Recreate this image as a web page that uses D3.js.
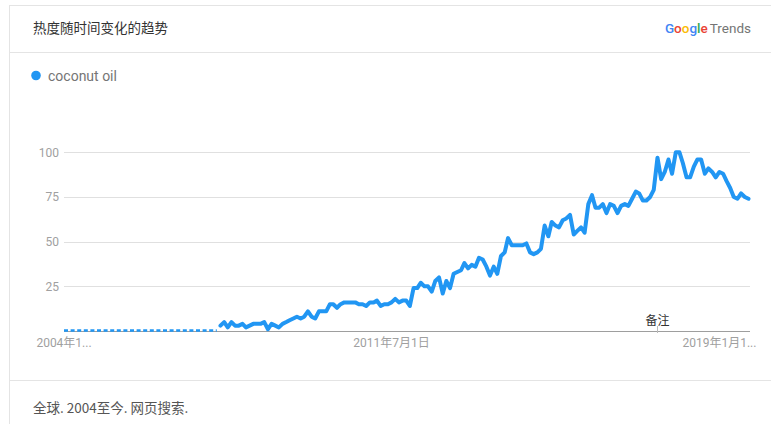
<!DOCTYPE html>
<html>
<head>
<meta charset="utf-8">
<script src="https://cdn.jsdelivr.net/npm/d3@7/dist/d3.min.js"></script>
<style>
  html, body { margin: 0; padding: 0; background: #fff; }
  svg { display: block; }
  text { font-family: Roboto, "Noto Sans CJK SC", "Noto Sans", sans-serif; }
</style>
</head>
<body>
<svg id="chart" width="771" height="424"></svg>
<script>
// ---- data ----
const seriesName = "coconut oil";
const startMonth = "2004-01-01";
const zeroMonths = 43; // months shown as dashed zero line
const values = [
  0,0,0,0,0,0,0,0,0,0, 0,0,0,0,0,0,0,0,0,0,
  0,0,0,0,0,0,0,0,0,0, 0,0,0,0,0,0,0,0,0,0,
  0,0,0,
  3,5,2,5,3,3,4,2,3,4, 4,4,5,1,4,3,2,4,5,6,
  7,8,7,8,11,8,7,11,11,11, 15,15,13,15,16,16,16,16,15,15,
  14,16,16,17,14,15,15,16,18,16, 17,17,14,24,24,27,25,25,22,28,
  30,21,28,24,32,33,34,38,35,37, 36,41,40,36,31,36,32,42,44,52,
  48,48,48,48,49,44,43,44,46,59, 53,61,59,58,62,63,65,54,56,58,
  55,71,76,69,69,71,66,71,70,66, 70,71,70,74,78,77,73,73,75,79,
  97,85,89,96,88,100,100,94,86,86, 92,96,96,88,91,89,86,89,88,84,
  80,75,74,77,75,74
];
const yTicks = [25, 50, 75, 100];
const xTickIndex = [0, 90, 180];
const xTickLabels = ["2004年1...", "2011年7月1日", "2019年1月1..."];
const noteIndex = 163;
const noteLabel = "备注";
const titleText = "热度随时间变化的趋势";
const footerText = "全球. 2004至今. 网页搜索.";

// ---- drawing ----
const W = 771, H = 424;
const svg = d3.select("#chart");
const blue = "#2196f3";

const dates = values.map((v, i) => d3.timeMonth.offset(new Date(startMonth + "T00:00:00"), i));
const data = values.map((v, i) => ({ date: dates[i], value: v, i }));

const x = d3.scaleTime().domain([dates[0], dates[dates.length - 1]]).range([64, 748.5]);
const y = d3.scaleLinear().domain([0, 100]).range([331, 152.3]);

// background + card
svg.append("rect").attr("width", W).attr("height", H).attr("fill", "#fff");
svg.append("rect").attr("x", 9.5).attr("y", 5.5).attr("width", 820).attr("height", 480)
  .attr("fill", "#fff").attr("stroke", "#e4e4e4");
svg.append("line").attr("x1", 10).attr("x2", W).attr("y1", 52.5).attr("y2", 52.5).attr("stroke", "#e4e4e4");
svg.append("line").attr("x1", 10).attr("x2", W).attr("y1", 380.5).attr("y2", 380.5).attr("stroke", "#e4e4e4");

// header
svg.append("text").attr("x", 33).attr("y", 33).attr("font-size", 13.5).attr("fill", "#333")
  .style("font-family", "'Noto Sans CJK SC', sans-serif").text(titleText);

const logo = svg.append("text").attr("x", 751).attr("y", 33).attr("text-anchor", "end")
  .attr("font-size", 13.5);
const gLetters = [["G", "#4285f4"], ["o", "#ea4335"], ["o", "#fbbc05"], ["g", "#4285f4"], ["l", "#34a853"], ["e", "#ea4335"]];
gLetters.forEach(([c, col]) => logo.append("tspan").attr("fill", col).attr("font-weight", 500).text(c));
logo.append("tspan").attr("fill", "#757575").attr("dx", 2).text("Trends");

// legend
svg.append("circle").attr("cx", 36).attr("cy", 75.5).attr("r", 4.8).attr("fill", blue);
svg.append("text").attr("x", 48).attr("y", 80.5).attr("font-size", 14).attr("fill", "#757575").text(seriesName);

// grid + y labels
const yAxis = svg.append("g");
yAxis.selectAll("line").data(yTicks).join("line")
  .attr("x1", 64).attr("x2", 750)
  .attr("y1", d => Math.round(y(d)) + 0.5).attr("y2", d => Math.round(y(d)) + 0.5)
  .attr("stroke", "#e0e0e0");
yAxis.selectAll("text").data(yTicks).join("text")
  .attr("x", 59).attr("y", d => y(d) + 4.5).attr("text-anchor", "end")
  .attr("font-size", 12).attr("fill", "#a0a0a0").text(d => d);

// baseline
svg.append("line").attr("x1", 64).attr("x2", 750).attr("y1", 331.5).attr("y2", 331.5).attr("stroke", "#9e9e9e");

// x labels
svg.append("g").selectAll("text").data(xTickIndex).join("text")
  .attr("x", d => x(dates[d])).attr("y", 346.5).attr("text-anchor", "middle")
  .attr("font-size", 12).attr("fill", "#a0a0a0")
  .text((d, i) => xTickLabels[i]);

// note
const nx = Math.round(x(dates[noteIndex])) + 0.5;
svg.append("line").attr("x1", nx).attr("x2", nx).attr("y1", 326).attr("y2", 333).attr("stroke", "#bbb");
svg.append("text").attr("x", nx).attr("y", 325).attr("text-anchor", "middle")
  .attr("font-size", 12).attr("fill", "#333").style("font-family", "'Noto Sans CJK SC', sans-serif").text(noteLabel);

// lines
const line = d3.line().x(d => x(d.date)).y(d => y(d.value));
svg.append("path").datum(data.slice(0, zeroMonths))
  .attr("d", d3.line().x(d => x(d.date)).y(d => y(d.value) - 0.5))
  .attr("fill", "none").attr("stroke", blue).attr("stroke-width", 2.6).attr("stroke-dasharray", "4,2.6");
svg.append("path").datum(data.slice(zeroMonths))
  .attr("d", line)
  .attr("fill", "none").attr("stroke", blue).attr("stroke-width", 4)
  .attr("stroke-linejoin", "round").attr("stroke-linecap", "round");

// footer
svg.append("text").attr("x", 33).attr("y", 413).attr("font-size", 13.5).attr("fill", "#555")
  .style("font-family", "'Noto Sans CJK SC', sans-serif").text(footerText);
</script>
</body>
</html>
